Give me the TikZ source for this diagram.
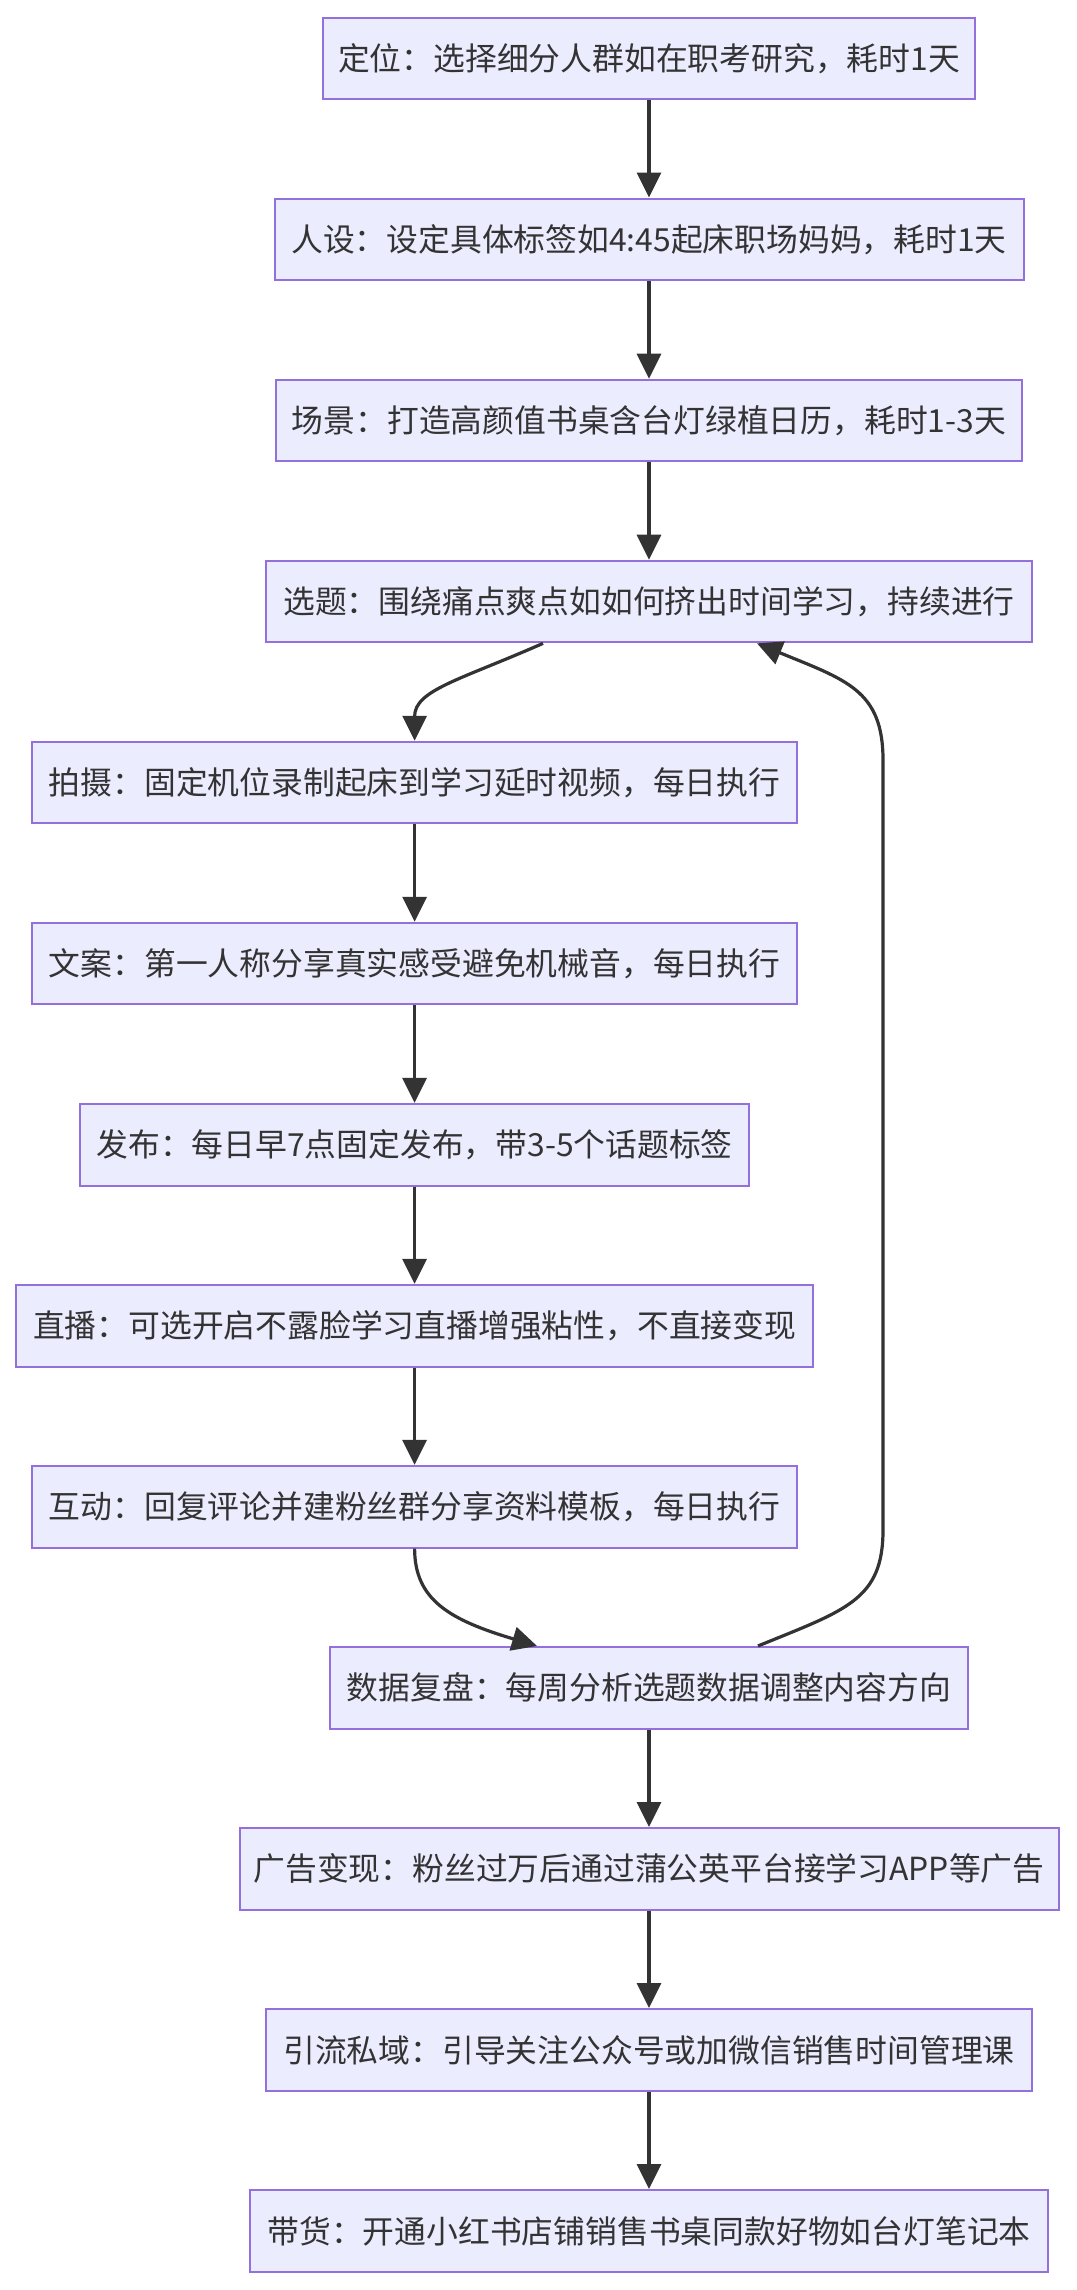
\documentclass[tikz,border=0pt]{standalone}
\usepackage{fontspec}
\setmainfont{Noto Sans CJK SC}
\usetikzlibrary{arrows.meta}
\definecolor{boxfill}{HTML}{ECECFF}
\definecolor{boxline}{HTML}{9370DB}
\definecolor{ink}{HTML}{333333}
\tikzset{
  stepbox/.style={draw=boxline, fill=boxfill, line width=1pt, minimum height=40.85pt,
    inner xsep=0pt, inner ysep=0pt, text=ink, font=\fontsize{15.9pt}{18pt}\selectfont},
  flow/.style={draw=ink, line width=1.6pt, -{Triangle[length=12.5pt,width=12pt]}}
}
\begin{document}
\begin{tikzpicture}[x=0.5pt,y=-0.5pt]
\useasboundingbox (0,0) rectangle (1076,2290);
\fill[white] (0,0) rectangle (1076,2290);
\node[stepbox, minimum width=326.3pt] (n1) at (649,58.4) {定位：选择细分人群如在职考研究，耗时1天};
\node[stepbox, minimum width=374.5pt] (n2) at (649,239.4) {人设：设定具体标签如4:45起床职场妈妈，耗时1天};
\node[stepbox, minimum width=373pt] (n3) at (649,420.5) {场景：打造高颜值书桌含台灯绿植日历，耗时1-3天};
\node[stepbox, minimum width=383.3pt] (n4) at (649,601.5) {选题：围绕痛点爽点如如何挤出时间学习，持续进行};
\node[stepbox, minimum width=382.5pt] (n5) at (414.6,782.6) {拍摄：固定机位录制起床到学习延时视频，每日执行};
\node[stepbox, minimum width=382.5pt] (n6) at (414.6,963.6) {文案：第一人称分享真实感受避免机械音，每日执行};
\node[stepbox, minimum width=334.4pt] (n7) at (414.6,1144.7) {发布：每日早7点固定发布，带3-5个话题标签};
\node[stepbox, minimum width=398.5pt] (n8) at (414.6,1325.7) {直播：可选开启不露脸学习直播增强粘性，不直接变现};
\node[stepbox, minimum width=382.5pt] (n9) at (414.6,1506.7) {互动：回复评论并建粉丝群分享资料模板，每日执行};
\node[stepbox, minimum width=319pt] (n10) at (649,1687.8) {数据复盘：每周分析选题数据调整内容方向};
\node[stepbox, minimum width=409.5pt] (n11) at (649,1868.9) {广告变现：粉丝过万后通过蒲公英平台接学习APP等广告};
\node[stepbox, minimum width=383pt] (n12) at (649,2049.9) {引流私域：引导关注公众号或加微信销售时间管理课};
\node[stepbox, minimum width=399pt] (n13) at (649,2230.9) {带货：开通小红书店铺销售书桌同款好物如台灯笔记本};
\draw[flow] (n1) -- (n2);
\draw[flow] (n2) -- (n3);
\draw[flow] (n3) -- (n4);
\draw[flow] ([xshift=-53pt]n4.south) .. controls (460,680) and (414.6,690) .. (n5.north);
\draw[flow] (n5) -- (n6);
\draw[flow] (n6) -- (n7);
\draw[flow] (n7) -- (n8);
\draw[flow] (n8) -- (n9);
\draw[flow] (n9.south) .. controls (414.6,1600) and (450,1620) .. ([xshift=-56pt]n10.north);
\draw[flow] ([xshift=54.5pt]n10.north) .. controls (846,1610) and (883,1600) .. (883,1530) -- (883,760) .. controls (883,690) and (846,680) .. ([xshift=54pt]n4.south);
\draw[flow] (n10) -- (n11);
\draw[flow] (n11) -- (n12);
\draw[flow] (n12) -- (n13);
\end{tikzpicture}
\end{document}
